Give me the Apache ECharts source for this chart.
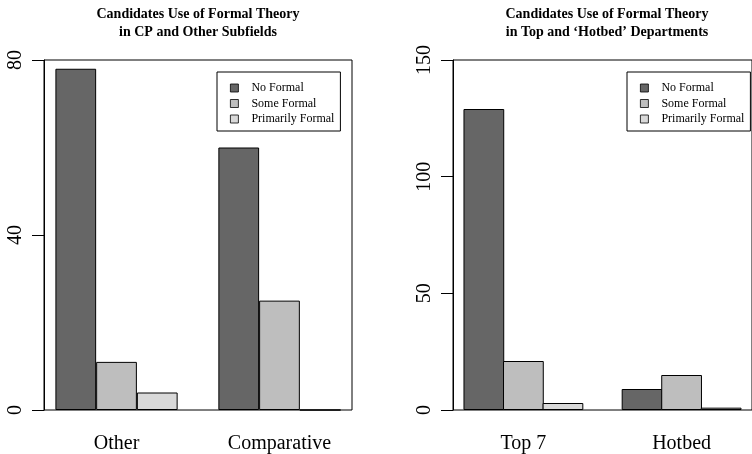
<!DOCTYPE html>
<html>
<head>
<meta charset="utf-8">
<script src="https://cdn.jsdelivr.net/npm/echarts@6/dist/echarts.min.js"></script>
<style>html,body{margin:0;padding:0;background:#fff;}#c{width:752px;height:454px;}</style>
</head>
<body>
<div id="c"></div>
<script>
// ---- data ----
const seriesNames = ['No Formal', 'Some Formal', 'Primarily Formal'];
const leftTitle = 'Candidates Use of Formal Theory\nin CP and Other Subfields';
const leftCategories = ['Other', 'Comparative'];
const leftNoFormal = [78, 60];
const leftSomeFormal = [11, 25];
const leftPrimarilyFormal = [4, 0];
const leftTicks = [0, 40, 80];

const rightTitle = 'Candidates Use of Formal Theory\nin Top and \u2018Hotbed\u2019 Departments';
const rightCategories = ['Top 7', 'Hotbed'];
const rightNoFormal = [129, 9];
const rightSomeFormal = [21, 15];
const rightPrimarilyFormal = [3, 1];
const rightTicks = [0, 50, 100, 150];

// ---- layout (R barplot style: bar width 1, space 1 between groups) ----
const colors = ['#666666', '#bebebe', '#d9d9d9'];
const XMIN = 0.72, XMAX = 8.28;
const GRID_W = 308, GRID_H = 351, GRID_TOP = 60;
const unitPx = GRID_W / (XMAX - XMIN);
const FONT = "'Liberation Serif', 'Times New Roman', serif";

function barPos(g, s) { return 1 + g * 4 + s + 0.5; }
function groupCenter(g) { return 1 + g * 4 + 1.5; }

function panel(idx, gridLeft, cats, vals, ticks) {
  const max = ticks[ticks.length - 1];
  const grid = { left: gridLeft, top: GRID_TOP, width: GRID_W, height: GRID_H,
    show: true, borderColor: '#000', borderWidth: 1, backgroundColor: 'transparent', containLabel: false };
  const centers = cats.map((c, g) => groupCenter(g));
  const xAxis = { type: 'value', gridIndex: idx, min: XMIN, max: XMAX,
    axisLine: { show: false }, axisTick: { show: false }, splitLine: { show: false },
    axisLabel: { customValues: centers, margin: 24, fontSize: 20, fontFamily: FONT, color: '#000',
      formatter: v => { const i = centers.findIndex(c => Math.abs(c - v) < 1e-6); return i >= 0 ? cats[i] : ''; } } };
  const yAxis = { type: 'value', gridIndex: idx, min: 0, max: max, interval: ticks[1] - ticks[0],
    axisLine: { show: true, lineStyle: { color: '#000', width: 1 } },
    axisTick: { show: true, length: 12, lineStyle: { color: '#000', width: 1 } },
    splitLine: { show: false },
    axisLabel: { rotate: 90, margin: 18, fontSize: 20, fontFamily: FONT, color: '#000',
      showMinLabel: true, showMaxLabel: true } };
  const series = vals.map((arr, s) => ({
    type: 'bar', name: seriesNames[s], xAxisIndex: idx, yAxisIndex: idx,
    barWidth: unitPx, barGap: '-100%',
    itemStyle: { color: colors[s], borderColor: '#000', borderWidth: 1 },
    emphasis: { disabled: true },
    data: arr.map((v, g) => [barPos(g, s), v])
  }));
  return { grid, xAxis, yAxis, series };
}

const pL = panel(0, 44, leftCategories, [leftNoFormal, leftSomeFormal, leftPrimarilyFormal], leftTicks);
const pR = panel(1, 453, rightCategories, [rightNoFormal, rightSomeFormal, rightPrimarilyFormal], rightTicks);

function legend(left) {
  return { data: seriesNames, orient: 'vertical', left: left, top: 72,
    itemWidth: 8, itemHeight: 8, itemGap: 1.5, icon: 'rect',
    itemStyle: { borderColor: '#000', borderWidth: 0.8 },
    padding: [9, 6, 5, 13], borderColor: '#000', borderWidth: 1, backgroundColor: '#fff',
    selectedMode: false,
    textStyle: { fontFamily: FONT, fontSize: 12, color: '#000', lineHeight: 14, padding: [0, 0, 0, 8] } };
}
function title(text, cx) {
  return { text: text, left: cx, top: 5, padding: 0, textAlign: 'center',
    textStyle: { fontFamily: FONT, fontWeight: 'bold', fontSize: 14, lineHeight: 18, color: '#000' } };
}

const chart = echarts.init(document.getElementById('c'), null, { renderer: 'canvas' });
chart.setOption({
  animation: false,
  backgroundColor: '#fff',
  title: [title(leftTitle, 198), title(rightTitle, 607)],
  legend: [legend(217), legend(627)],
  grid: [pL.grid, pR.grid],
  xAxis: [pL.xAxis, pR.xAxis],
  yAxis: [pL.yAxis, pR.yAxis],
  series: pL.series.concat(pR.series)
});
</script>
</body>
</html>
